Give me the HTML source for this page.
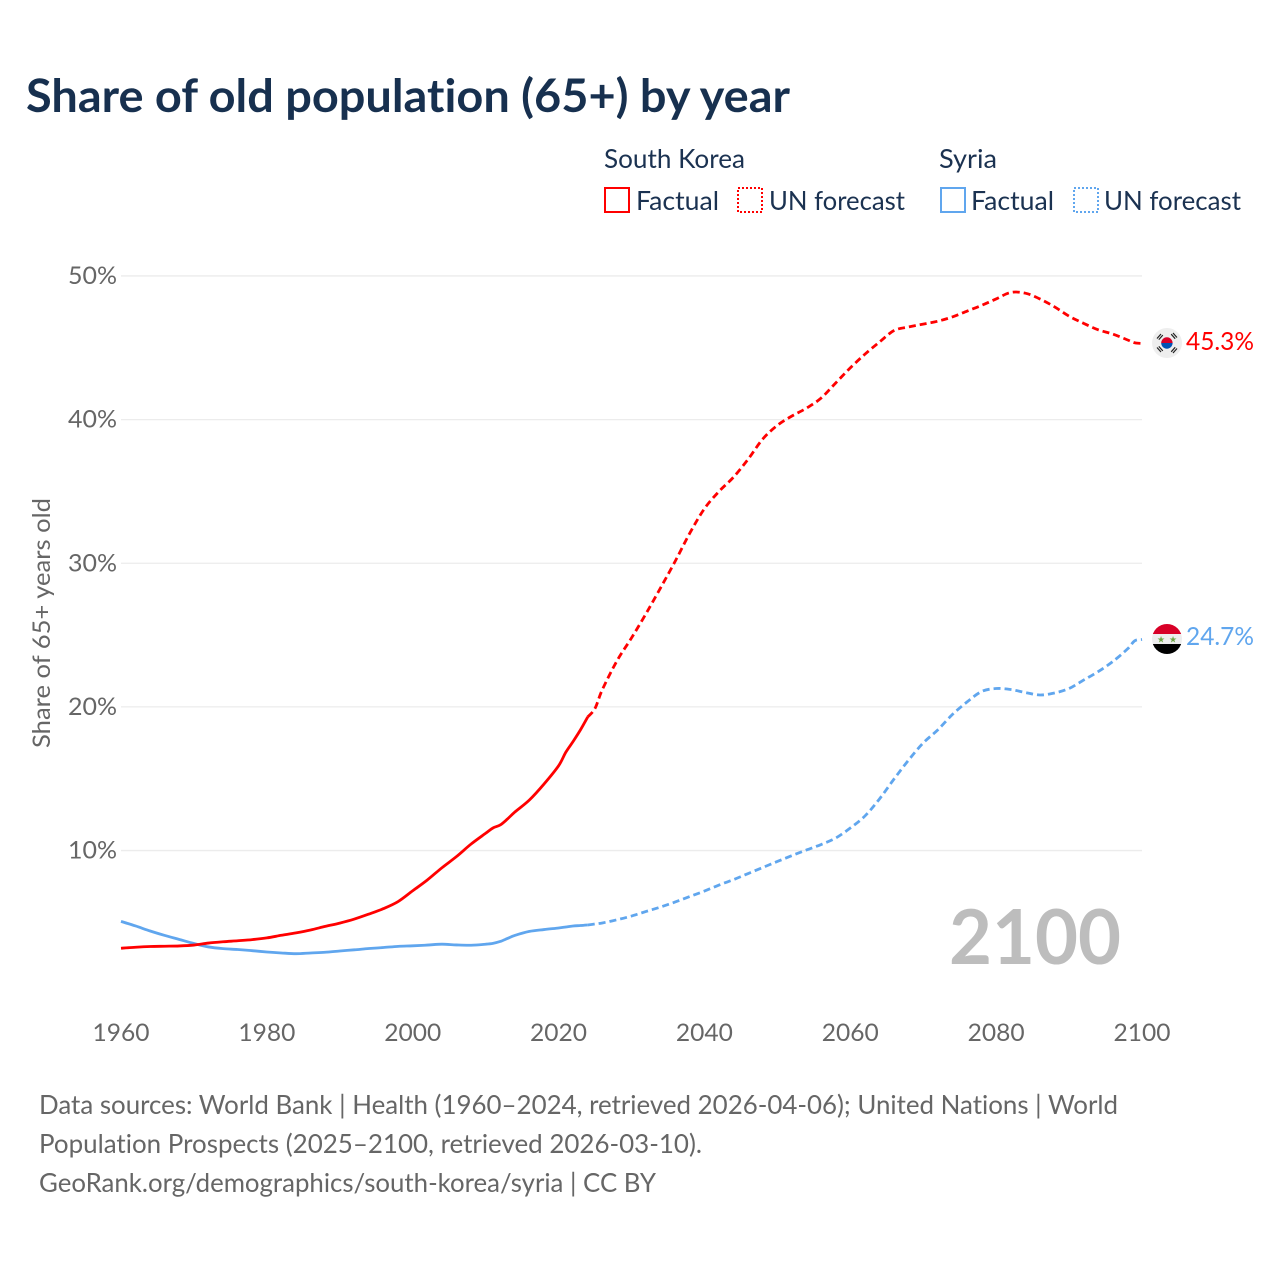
<!DOCTYPE html>
<html lang="en">
<head>
<meta charset="utf-8">
<title>Share of old population (65+) by year</title>
<style>
html,body{margin:0;padding:0;background:#fff;width:1280px;height:1280px;overflow:hidden}
svg{display:block}
text{font-family:"Lato","Carlito","Liberation Sans",sans-serif;font-variant-ligatures:none}
</style>
</head>
<body>
<svg id="chart" xmlns="http://www.w3.org/2000/svg" width="1280" height="1280" viewBox="0 0 1280 1280">
  <rect x="0" y="0" width="1280" height="1280" fill="#fff"/>
  <text x="26" y="112" font-size="46" font-weight="700" fill="#17304f" textLength="764" lengthAdjust="spacingAndGlyphs">Share of old population (65+) by year</text>

  <g font-size="26" fill="#1b3251">
    <text x="604" y="168" textLength="141" lengthAdjust="spacingAndGlyphs">South Korea</text>
    <rect x="605" y="188" width="24" height="24" fill="none" stroke="#ff0000" stroke-width="2"/>
    <text x="636" y="210" textLength="83" lengthAdjust="spacingAndGlyphs">Factual</text>
    <rect x="738" y="188" width="24" height="24" fill="none" stroke="#ff0000" stroke-width="2" stroke-dasharray="2 2"/>
    <text x="769" y="210" textLength="136" lengthAdjust="spacingAndGlyphs">UN forecast</text>
    <text x="939" y="168" textLength="58" lengthAdjust="spacingAndGlyphs">Syria</text>
    <rect x="941" y="188" width="24" height="24" fill="none" stroke="#60a6ee" stroke-width="2"/>
    <text x="971" y="210" textLength="83" lengthAdjust="spacingAndGlyphs">Factual</text>
    <rect x="1074" y="188" width="24" height="24" fill="none" stroke="#60a6ee" stroke-width="2" stroke-dasharray="2 2"/>
    <text x="1104" y="210" textLength="137" lengthAdjust="spacingAndGlyphs">UN forecast</text>
  </g>

  <g id="grid"></g>
  <g id="yticks"></g>
  <g id="xticks"></g>
  <text transform="translate(50,748) rotate(-90)" x="0" y="0" font-size="24" fill="#666" textLength="250" lengthAdjust="spacingAndGlyphs">Share of 65+ years old</text>
  <text x="949" y="964" font-size="76" font-weight="700" fill="#bdbdbd" textLength="172" lengthAdjust="spacingAndGlyphs">2100</text>

  <g id="series"></g>

  <defs>
    <clipPath id="clip-flag-kr"><circle cx="1167" cy="343" r="15"/></clipPath>
    <clipPath id="clip-flag-sy"><circle cx="1167" cy="639" r="15"/></clipPath>
  </defs>
  <g id="flag-kr" clip-path="url(#clip-flag-kr)">
    <rect x="1152" y="328" width="30" height="30" fill="#eeeeee"/>
    <path d="M1161.2 343 a5.7 5.7 0 0 1 11.4 0 z" fill="#d80027"/>
    <path d="M1161.2 343 a5.7 5.7 0 0 0 11.4 0 z" fill="#0052b4"/>
    <g stroke="#222" stroke-width="1.2" fill="none">
      <path d="M1157 338.5 l4 -4.5 M1158.8 339.6 l4 -4.5"/>
      <path d="M1171.2 334.2 l4 4.5 M1173 333 l4 4.5"/>
      <path d="M1157 347.5 l4 4.5 M1158.8 346.4 l4 4.5"/>
      <path d="M1171.2 351.8 l4 -4.5 M1173 353 l4 -4.5"/>
    </g>
  </g>
  <g id="flag-sy" clip-path="url(#clip-flag-sy)">
    <rect x="1152" y="624" width="30" height="10" fill="#d80027"/>
    <rect x="1152" y="634" width="30" height="10" fill="#eeeeee"/>
    <rect x="1152" y="644" width="30" height="10" fill="#000000"/>
    <text x="1161" y="642.5" font-size="9" text-anchor="middle" fill="#6da544" style='font-family:"DejaVu Sans",sans-serif'>★</text>
    <text x="1173" y="642.5" font-size="9" text-anchor="middle" fill="#6da544" style='font-family:"DejaVu Sans",sans-serif'>★</text>
  </g>

  <text x="1186" y="350" font-size="25" fill="#ff0000" textLength="68" lengthAdjust="spacingAndGlyphs">45.3%</text>
  <text x="1186" y="645" font-size="25" fill="#60a6ee" textLength="68" lengthAdjust="spacingAndGlyphs">24.7%</text>

  <g font-size="26" fill="#666">
    <text x="39" y="1114" textLength="1079" lengthAdjust="spacingAndGlyphs">Data sources: World Bank | Health (1960–2024, retrieved 2026-04-06); United Nations | World</text>
    <text x="39" y="1153" textLength="663" lengthAdjust="spacingAndGlyphs">Population Prospects (2025–2100, retrieved 2026-03-10).</text>
    <text x="39" y="1192" textLength="617" lengthAdjust="spacingAndGlyphs">GeoRank.org/demographics/south-korea/syria | CC BY</text>
  </g>
</svg>
<script>
const yTickValues = [10, 20, 30, 40, 50];
const yTickLabels = ["10%", "20%", "30%", "40%", "50%"];
const xTickYears = [1960, 1980, 2000, 2020, 2040, 2060, 2080, 2100];
const xTickLabels = ["1960", "1980", "2000", "2020", "2040", "2060", "2080", "2100"];

const factualYears = [1960,1962,1964,1966,1968,1970,1972,1974,1976,1978,1980,1982,1984,1986,1988,1990,1992,1994,1996,1998,2000,2002,2004,2006,2008,2010,2011,2012,2013,2014,2016,2018,2020,2021,2022,2023,2024];
const koreaFactual = [3.2,3.27,3.32,3.34,3.36,3.42,3.56,3.65,3.72,3.8,3.92,4.1,4.27,4.47,4.72,4.95,5.23,5.58,5.96,6.45,7.2,7.95,8.8,9.58,10.45,11.2,11.57,11.78,12.2,12.68,13.52,14.63,15.9,16.85,17.6,18.4,19.3];
const syriaFactual = [5.07,4.75,4.4,4.09,3.81,3.53,3.29,3.17,3.11,3.03,2.94,2.87,2.82,2.87,2.92,3.01,3.09,3.18,3.25,3.33,3.37,3.42,3.48,3.43,3.41,3.48,3.54,3.67,3.88,4.09,4.37,4.5,4.61,4.68,4.75,4.78,4.82];

const forecastYears = [2024,2025,2026,2028,2030,2032,2034,2036,2038,2040,2042,2044,2046,2048,2050,2052,2054,2056,2058,2060,2062,2064,2066,2068,2070,2072,2074,2076,2078,2080,2082,2084,2086,2088,2090,2092,2094,2096,2098,2099,2100];
const koreaForecast = [19.3,19.9,21.2,23.2,24.8,26.5,28.3,30.15,32.1,33.8,35.0,36.0,37.25,38.65,39.6,40.25,40.8,41.5,42.55,43.6,44.55,45.4,46.2,46.45,46.65,46.85,47.15,47.55,47.95,48.4,48.85,48.8,48.4,47.85,47.2,46.7,46.25,45.95,45.55,45.35,45.3];
const syriaForecast = [4.82,4.89,4.96,5.18,5.44,5.76,6.07,6.42,6.8,7.18,7.6,7.98,8.4,8.82,9.24,9.65,10.04,10.42,10.87,11.57,12.4,13.59,14.98,16.3,17.49,18.4,19.47,20.34,21.07,21.28,21.21,21.0,20.83,20.97,21.28,21.87,22.46,23.16,24.03,24.6,24.7];

const NS = "http://www.w3.org/2000/svg";
function xScale(year) { return 121 + (year - 1960) * (1142 - 121) / 140; }
function yScale(value) { return 994.2 - value * 14.365; }
function make(tag, attrs, text) {
  const el = document.createElementNS(NS, tag);
  for (const k in attrs) el.setAttribute(k, attrs[k]);
  if (text !== undefined) el.textContent = text;
  return el;
}
function linePath(years, values) {
  const pts = years.map(function (y, i) { return [xScale(y), yScale(values[i])]; });
  let d = "M" + pts[0][0].toFixed(2) + " " + pts[0][1].toFixed(2);
  for (let i = 0; i < pts.length - 1; i++) {
    const p0 = pts[Math.max(i - 1, 0)], p1 = pts[i], p2 = pts[i + 1], p3 = pts[Math.min(i + 2, pts.length - 1)];
    const c1x = p1[0] + (p2[0] - p0[0]) / 6, c1y = p1[1] + (p2[1] - p0[1]) / 6;
    const c2x = p2[0] - (p3[0] - p1[0]) / 6, c2y = p2[1] - (p3[1] - p1[1]) / 6;
    d += " C" + c1x.toFixed(2) + " " + c1y.toFixed(2) + " " + c2x.toFixed(2) + " " + c2y.toFixed(2) + " " + p2[0].toFixed(2) + " " + p2[1].toFixed(2);
  }
  return d;
}

const gridLayer = document.getElementById("grid");
const yLayer = document.getElementById("yticks");
yTickValues.forEach(function (v, i) {
  const line = make("line", { x1: 121, x2: 1142, y1: yScale(v), y2: yScale(v), stroke: "#ececec", "stroke-width": 1.3 });
  
  
  gridLayer.appendChild(line);
  const label = make("text", { x: 117, y: yScale(v) + 8, "text-anchor": "end", "font-size": 24, fill: "#666", textLength: 49, lengthAdjust: "spacingAndGlyphs" }, yTickLabels[i]);
  
  
  yLayer.appendChild(label);
});

const xLayer = document.getElementById("xticks");
xTickYears.forEach(function (yr, i) {
  const label = make("text", { x: xScale(yr), y: 1041, "text-anchor": "middle", "font-size": 24, fill: "#666", textLength: 57, lengthAdjust: "spacingAndGlyphs" }, xTickLabels[i]);
  
  
  xLayer.appendChild(label);
});

const seriesLayer = document.getElementById("series");

const syriaFactualLine = make("path", { d: linePath(factualYears, syriaFactual), fill: "none", stroke: "#60a6ee", "stroke-width": 2.8, "stroke-linejoin": "round" });


seriesLayer.appendChild(syriaFactualLine);

const syriaForecastLine = make("path", { d: linePath(forecastYears, syriaForecast), fill: "none", stroke: "#60a6ee", "stroke-width": 2.8, "stroke-linejoin": "round", "stroke-dasharray": "7 4" });


seriesLayer.appendChild(syriaForecastLine);

const koreaFactualLine = make("path", { d: linePath(factualYears, koreaFactual), fill: "none", stroke: "#ff0000", "stroke-width": 2.8, "stroke-linejoin": "round" });


seriesLayer.appendChild(koreaFactualLine);

const koreaForecastLine = make("path", { d: linePath(forecastYears, koreaForecast), fill: "none", stroke: "#ff0000", "stroke-width": 2.8, "stroke-linejoin": "round", "stroke-dasharray": "7 4" });


seriesLayer.appendChild(koreaForecastLine);
</script>
</body>
</html>
